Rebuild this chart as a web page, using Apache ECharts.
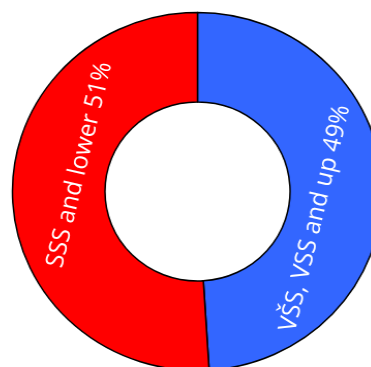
<!DOCTYPE html>
<html>
<head>
<meta charset="utf-8">
<script src="https://cdn.jsdelivr.net/npm/echarts@6/dist/echarts.min.js"></script>
<style>
html,body{margin:0;padding:0;background:#fff;overflow:hidden;}
#c{width:371px;height:367px;transform:scaleX(1.034);transform-origin:197.5px 0;}
</style>
</head>
<body>
<div id="c"></div>
<script>
var categories = ['VŠS, VSS and up', 'SSS and lower'];
var values = [49, 51];
var colors = ['#3366ff', '#ff0000'];

var CX = 197.5, CY = 191.5, R_IN = 89.5, R_OUT = 179, LABEL_R = 117, LABEL_SHIFT = -15;
var total = values.reduce(function(a,b){return a+b;},0);

function midAngle(i){
  var start = 90;
  for (var k=0;k<i;k++) start -= values[k]/total*360;
  return start - values[i]/total*180;
}

var chart = echarts.init(document.getElementById('c'));
chart.setOption({
  animation:false,
  series:[{
    type:'pie',
    center:[CX, CY],
    radius:[R_IN, R_OUT],
    startAngle:90,
    clockwise:true,
    data: categories.map(function(n,i){return {name:n, value:values[i], itemStyle:{color:colors[i]}};}),
    itemStyle:{borderColor:'#000', borderWidth:1.5},
    label:{
      show:true, position:'inside', color:'#fff',
      fontFamily:'Open Sans', fontSize:24,
      formatter:function(p){return p.name+' '+p.value+'%';}
    },
    labelLine:{show:false},
    emphasis:{disabled:true},
    labelLayout:function(p){
      var th = midAngle(p.dataIndex) + LABEL_SHIFT;
      var rad = th*Math.PI/180;
      var rot = th + 90;
      while (rot > 90) rot -= 180;
      while (rot <= -90) rot += 180;
      return {x: CX + LABEL_R*Math.cos(rad), y: CY - LABEL_R*Math.sin(rad), rotate: rot, align:'center', verticalAlign:'middle'};
    }
  }]
});
</script>
</body>
</html>
